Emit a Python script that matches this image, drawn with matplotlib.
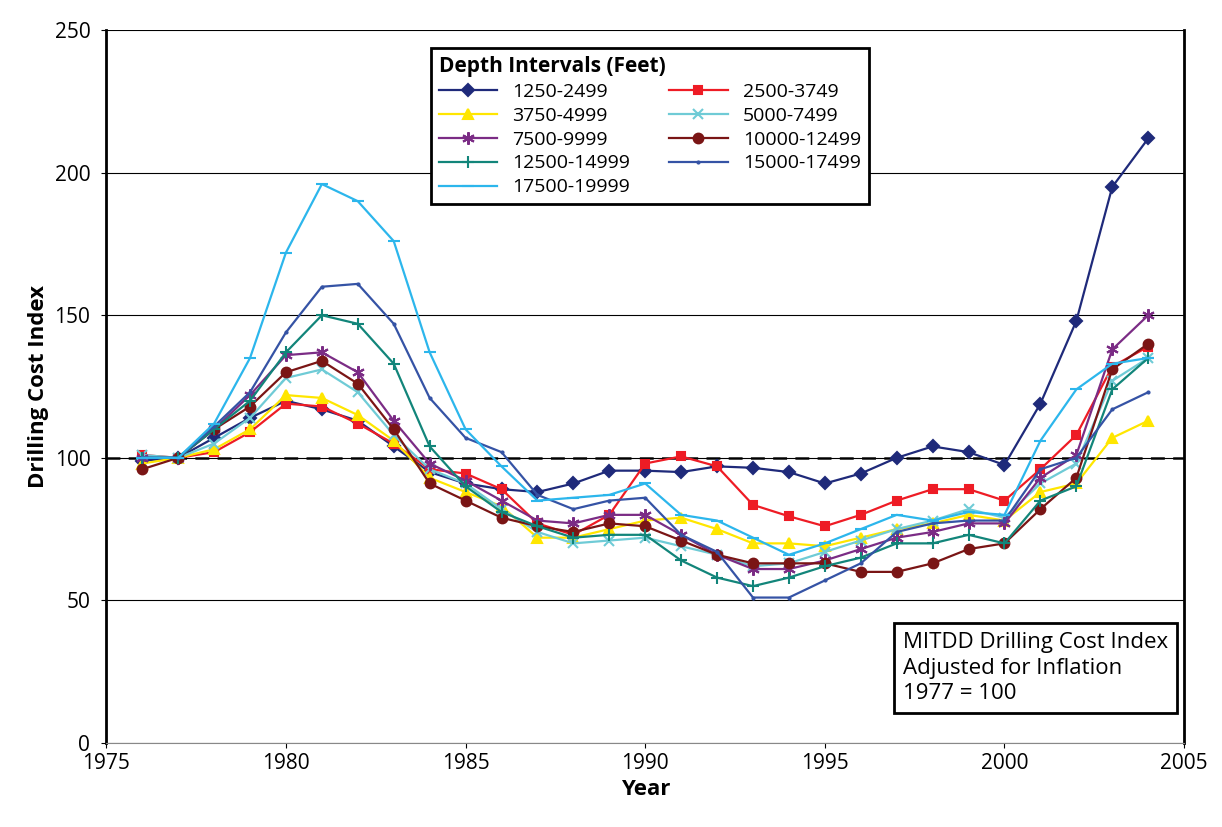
import matplotlib
matplotlib.use("Agg")
import matplotlib.pyplot as plt

plt.rcParams['font.family'] = ['Open Sans', 'DejaVu Sans']

years = list(range(1976, 2005))
s1250 = [99,100,107,114,120,117,113,104,95,91,89,88,91,95.5,95.5,95,97,96.5,95,91,94.5,100,104,102,97.5,119,148,195,212]
s2500 = [101,100,102,109,119,118,112,105,96,94.5,89,77,73,80,98,100.5,97,83.5,79.5,76,80,85,89,89,85,96,108,132,139]
s3750 = [98,100,103,110,122,121,115,106,93,88,83,72,72,75,78,79,75,70,70,69,72,75,77,80,78,88,91,107,113]
s5000 = [101,100,105,114,128,131,123,108,96,91,82,74,70,71,72,69,66,62,63,67,71,75,78,82,79,91,98,127,135]
s7500 = [100,100,110,122,136,137,130,113,98,92,85,78,77,80,80,73,66,61,61,64,68,72,74,77,77,93,101,138,150]
s10000 = [96,100,110,118,130,134,126,110,91,85,79,76,74,77,76,71,66,63,63,63,60,60,63,68,70,82,93,131,140]
s12500 = [100,100,110,120,137,150,147,133,104,90,81,76,72,73,73,64,58,55,58,62,65,70,70,73,70,85,90,124,135]
s15000 = [100,100,111,123,144,160,161,147,121,107,102,87,82,85,86,73,67,51,51,57,63,74,77,78,78,96,100,117,123]
s17500 = [100,100,112,135,172,196,190,176,137,110,97,85,86,87,91,80,78,72,66,70,75,80,78,81,80,106,124,133,135]

series = [
    ("1250-2499", s1250, "#1F2A7A", "D", 6),
    ("2500-3749", s2500, "#EE1C25", "s", 6),
    ("3750-4999", s3750, "#FFE600", "^", 7),
    ("5000-7499", s5000, "#6FCBD6", "x", 7),
    ("7500-9999", s7500, "#7B2C85", (6, 2, 0), 9),
    ("10000-12499", s10000, "#7A1515", "o", 7),
    ("12500-14999", s12500, "#12857A", "+", 9),
    ("15000-17499", s15000, "#3553A5", ".", 3),
    ("17500-19999", s17500, "#2CB6EC", "_", 8),
]

fig = plt.figure(figsize=(12.22, 8.27), dpi=100)
ax = fig.add_axes([0.087, 0.1016, 0.882, 0.862])
handles = []
for lbl, vals, c, m, ms in series:
    h, = ax.plot(years, vals, color=c, marker=m, markersize=ms, lw=1.6, label=lbl,
                 markeredgewidth=1.5)
    handles.append(h)
ax.axhline(100, color="#333333", lw=2, ls=(0, (5, 3)), zorder=0)
ax.set_xlim(1975, 2005)
ax.set_ylim(0, 250)
ax.set_yticks([0, 50, 100, 150, 200, 250])
ax.set_xticks(range(1975, 2006, 5))
ax.grid(axis='y', color='black', lw=0.8)
ax.set_axisbelow(True)
ax.spines['top'].set_visible(False)
ax.spines['left'].set_linewidth(2)
ax.spines['right'].set_linewidth(2)
ax.spines['bottom'].set_color('#888888')
ax.tick_params(labelsize=15)
ax.tick_params(axis='y', pad=8)
ax.set_xlabel("Year", fontsize=16, fontweight='bold')
ax.set_ylabel("Drilling Cost Index", fontsize=16, fontweight='bold')

order = [0, 2, 4, 6, 8, 1, 3, 5, 7]
hs = [handles[i] for i in order]
leg = ax.legend(hs, [h.get_label() for h in hs], ncol=2, loc='upper left',
                bbox_to_anchor=(0.292, 0.988),
                title="Depth Intervals (Feet)", fontsize=14, title_fontsize=15,
                frameon=True, fancybox=False, edgecolor='black', framealpha=1,
                handlelength=3, columnspacing=2.0, labelspacing=0.3)
leg._legend_box.align = "left"
leg.get_title().set_fontweight('bold')
leg.get_frame().set_linewidth(2)

ax.text(0.985, 0.105, "MITDD Drilling Cost Index\nAdjusted for Inflation\n1977 = 100",
        transform=ax.transAxes, fontsize=16, ha='right', va='center', linespacing=1.3,
        multialignment='left',
        bbox=dict(boxstyle='square,pad=0.4', fc='white', ec='black', lw=2))
fig.savefig("out.png", dpi=100)
